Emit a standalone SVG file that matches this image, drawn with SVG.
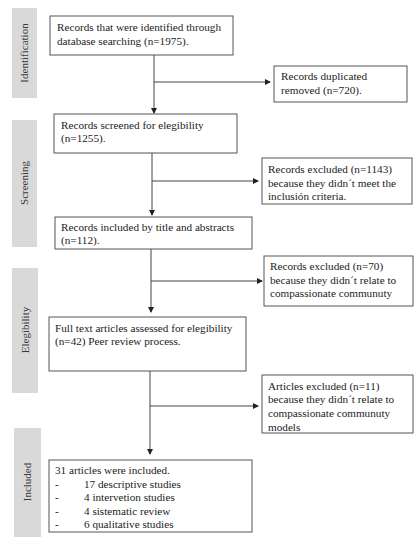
<svg xmlns="http://www.w3.org/2000/svg" width="420" height="550" viewBox="0 0 420 550">
<style>
.bar{fill:#d9d9d9}
.lab{font-family:"Liberation Serif","DejaVu Serif",serif;font-size:11px;fill:#3a3a3a;text-anchor:middle}
.box{fill:#fff;stroke:#555;stroke-width:1}
.t{font-family:"Liberation Serif","DejaVu Serif",serif;font-size:11.2px;fill:#222}
.ln{fill:none;stroke:#444;stroke-width:1}
</style>
<defs>
<marker id="ah" markerWidth="6" markerHeight="6" refX="5" refY="3" orient="auto" markerUnits="userSpaceOnUse">
<path d="M0,0 L6,3 L0,6 Z" fill="#222"/>
</marker>
</defs>
<rect width="420" height="550" fill="#fff"/>
<g id="stages">
<rect class="bar" x="12" y="8" width="25" height="90"/>
<text class="lab" transform="translate(28,53) rotate(-90)">Identification</text>
<rect class="bar" x="12" y="120" width="25" height="127"/>
<text class="lab" transform="translate(28,183) rotate(-90)">Screening</text>
<rect class="bar" x="12" y="268" width="26" height="125"/>
<text class="lab" transform="translate(29,330) rotate(-90)">Elegibility</text>
<rect class="bar" x="14" y="428" width="27" height="109"/>
<text class="lab" transform="translate(31,482) rotate(-90)">Included</text>
</g>
<g id="connectors">
<path class="ln" d="M154,55 V113" marker-end="url(#ah)"/>
<path class="ln" d="M154,82 H270" marker-end="url(#ah)"/>
<path class="ln" d="M152,153 V215" marker-end="url(#ah)"/>
<path class="ln" d="M152,181 H258" marker-end="url(#ah)"/>
<path class="ln" d="M151,249 V312" marker-end="url(#ah)"/>
<path class="ln" d="M151,281 H262" marker-end="url(#ah)"/>
<path class="ln" d="M150,371 V454" marker-end="url(#ah)"/>
<path class="ln" d="M150,406 H258" marker-end="url(#ah)"/>
</g>
<g id="n1">
<rect class="box" x="50" y="16" width="183" height="39"/>
<text class="t" x="57" y="31">Records that were identified through</text>
<text class="t" x="57" y="45">database searching (n=1975).</text>
</g>
<g id="n2">
<rect class="box" x="274" y="66" width="133" height="36"/>
<text class="t" x="281" y="80">Records duplicated</text>
<text class="t" x="281" y="94">removed (n=720).</text>
</g>
<g id="n3">
<rect class="box" x="54" y="114" width="183" height="39"/>
<text class="t" x="61" y="129">Records screened for elegibility</text>
<text class="t" x="61" y="142">(n=1255).</text>
</g>
<g id="n4">
<rect class="box" x="262" y="158" width="150" height="46"/>
<text class="t" x="268" y="173">Records excluded (n=1143)</text>
<text class="t" x="268" y="187">because they didn´t meet the</text>
<text class="t" x="268" y="200">inclusión criteria.</text>
</g>
<g id="n5">
<rect class="box" x="55" y="217" width="197" height="32"/>
<text class="t" x="61" y="231">Records included by title and abstracts</text>
<text class="t" x="61" y="244">(n=112).</text>
</g>
<g id="n6">
<rect class="box" x="264" y="256" width="149" height="50"/>
<text class="t" x="270" y="270">Records excluded (n=70)</text>
<text class="t" x="270" y="284">because they didn´t relate to</text>
<text class="t" x="270" y="297">compassionate communuty</text>
</g>
<g id="n7">
<rect class="box" x="49" y="317" width="197" height="54"/>
<text class="t" x="55" y="332">Full text articles assessed for elegibility</text>
<text class="t" x="55" y="345">(n=42) Peer review process.</text>
</g>
<g id="n8">
<rect class="box" x="262" y="375" width="151" height="58"/>
<text class="t" x="268" y="390">Articles excluded (n=11)</text>
<text class="t" x="268" y="403">because they didn´t relate to</text>
<text class="t" x="268" y="417">compassionate communuty</text>
<text class="t" x="268" y="431">models</text>
</g>
<g id="n9">
<rect class="box" x="49" y="460" width="203" height="72"/>
<text class="t" x="55" y="474">31 articles were included.</text>
<text class="t" x="55" y="488">-</text><text class="t" x="84" y="488">17 descriptive studies</text>
<text class="t" x="55" y="501">-</text><text class="t" x="84" y="501">4 intervetion studies</text>
<text class="t" x="55" y="515">-</text><text class="t" x="84" y="515">4 sistematic review</text>
<text class="t" x="55" y="528">-</text><text class="t" x="84" y="528">6 qualitative studies</text>
</g>
</svg>
